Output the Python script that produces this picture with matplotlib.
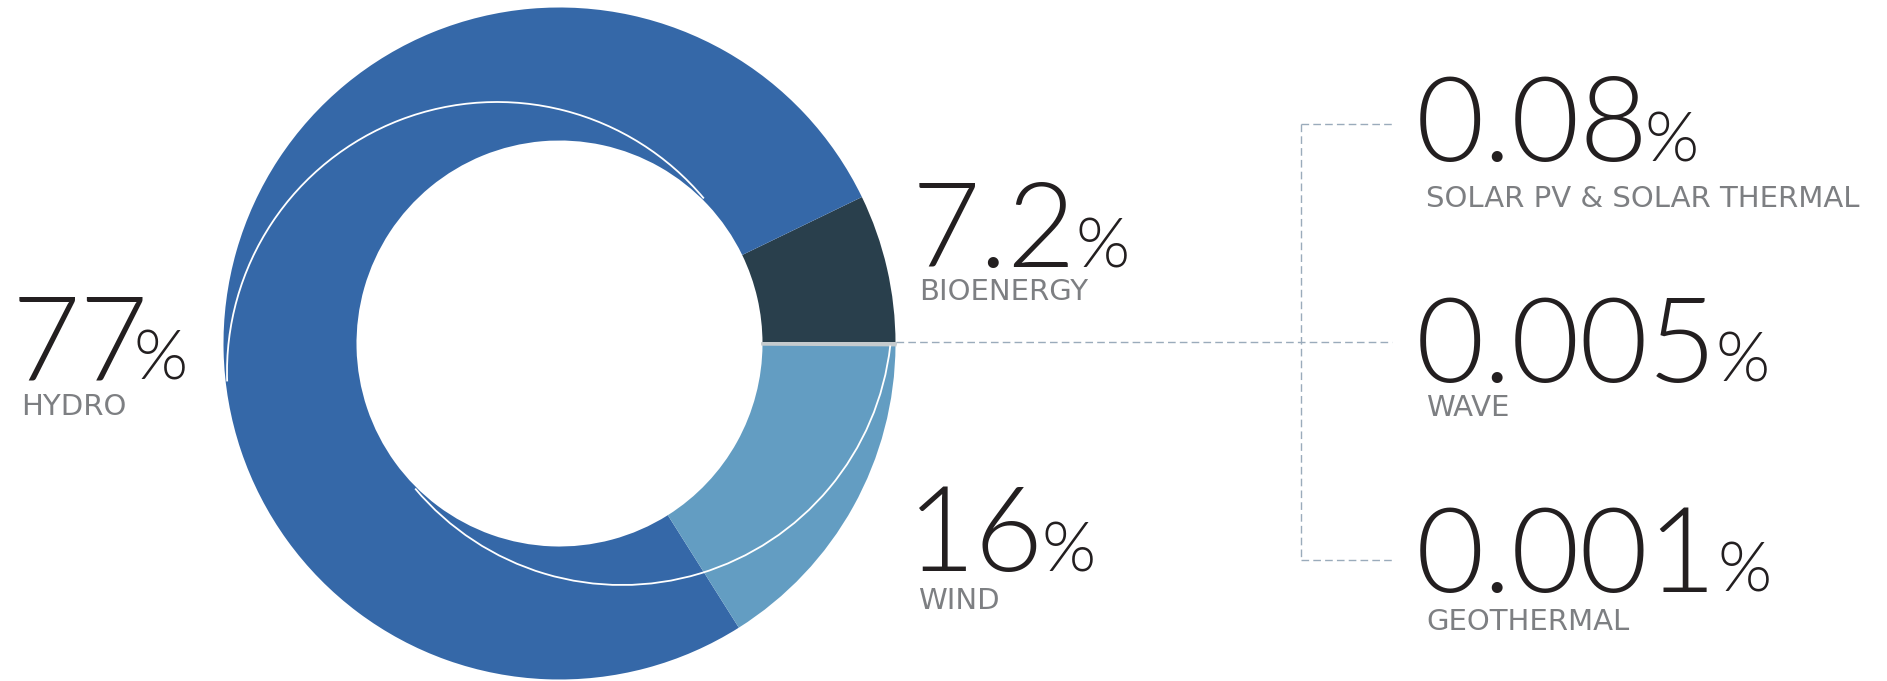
import matplotlib
matplotlib.use('Agg')
from matplotlib import pyplot as plt
from matplotlib.patches import Arc

W, H = 1887, 681

sources = ['HYDRO', 'BIOENERGY', 'WIND', 'SOLAR PV & SOLAR THERMAL', 'WAVE', 'GEOTHERMAL']
shares = [77, 7.2, 16, 0.08, 0.005, 0.001]
share_text = ['77', '7.2', '16', '0.08', '0.005', '0.001']

# order round the ring, counter-clockwise from 3 o'clock
ring_order = ['BIOENERGY', 'HYDRO', 'WIND', 'SOLAR PV & SOLAR THERMAL', 'WAVE', 'GEOTHERMAL']

colors = {
    'HYDRO': '#3568a8',
    'BIOENERGY': '#293f4c',
    'WIND': '#639dc2',
    'SOLAR PV & SOLAR THERMAL': '#c5cbce',
    'WAVE': '#c5cbce',
    'GEOTHERMAL': '#c5cbce',
}

# pixel positions from top-left: number x, number baseline, label baseline, label x
label_pos = {
    'HYDRO': (12, 380, 415, 21),
    'BIOENERGY': (912, 267, 300, 919),
    'WIND': (907, 571, 609, 918),
    'SOLAR PV & SOLAR THERMAL': (1416, 161, 207, 1426),
    'WAVE': (1416, 382, 416, 1426),
    'GEOTHERMAL': (1416, 592, 630, 1426),
}
# gap before the % sign, in points
pct_gap = {'HYDRO': -11, 'BIOENERGY': -1, 'WIND': -2, 'SOLAR PV & SOLAR THERMAL': -3,
           'WAVE': -1, 'GEOTHERMAL': 0}

CX, CY = 559.5, H - 343.5
R_OUT, R_IN = 336, 203
NUM_FONT = 'Lato'
NUM_WEIGHT = 300


def up(y):
    return H - y


def draw_ring(ax):
    vals = [shares[sources.index(s)] for s in ring_order]
    cols = [colors[s] for s in ring_order]
    wedges, _ = ax.pie(vals, colors=cols, startangle=0, counterclock=True,
                       center=(CX, CY), radius=R_OUT,
                       wedgeprops=dict(width=R_OUT - R_IN, linewidth=0))
    for w, s in zip(wedges, ring_order):
        if shares[sources.index(s)] < 1:
            w.set_edgecolor(colors[s])
            w.set_linewidth(1.6)

    # two thin white arcs lying over the ring
    ax.add_patch(Arc((CX - 62.5, CY - 28.5), 540, 540, theta1=40, theta2=182,
                     color='white', lw=1.3, zorder=3))
    ax.add_patch(Arc((CX + 62.5, CY + 28.5), 540, 540, theta1=220, theta2=353.5,
                     color='white', lw=1.3, zorder=3))


def draw_connector(ax):
    kw = dict(color='#9aabbb', lw=1.0, dashes=(5.5, 3))
    ax.plot([CX + R_OUT, 1392], [up(342), up(342)], **kw)
    ax.plot([1301, 1301], [up(124), up(560)], **kw)
    ax.plot([1301, 1392], [up(124), up(124)], **kw)
    ax.plot([1301, 1392], [up(560), up(560)], **kw)


def draw_labels(ax):
    for s, txt in zip(sources, share_text):
        x, yb, yl, xl = label_pos[s]
        num = ax.text(x, up(yb), txt, fontsize=85, family=NUM_FONT,
                      fontweight=NUM_WEIGHT, color='#231f20',
                      va='baseline', ha='left')
        ax.annotate('%', xy=(1, up(yb)), xycoords=(num, 'data'),
                    xytext=(pct_gap[s], 0), textcoords='offset points',
                    fontsize=50, family=NUM_FONT, fontweight=NUM_WEIGHT,
                    color='#231f20', va='baseline', ha='left')
        ax.text(xl, up(yl), s, fontsize=21, family='DejaVu Sans',
                color='#7d7f82', va='baseline', ha='left')


fig = plt.figure(figsize=(W / 100, H / 100), dpi=100)
ax = fig.add_axes([0, 0, 1, 1])
draw_ring(ax)
draw_connector(ax)
draw_labels(ax)
ax.set_xlim(0, W)
ax.set_ylim(0, H)
ax.set_aspect('equal')
ax.axis('off')
fig.savefig('out.png', dpi=100, facecolor='white')
